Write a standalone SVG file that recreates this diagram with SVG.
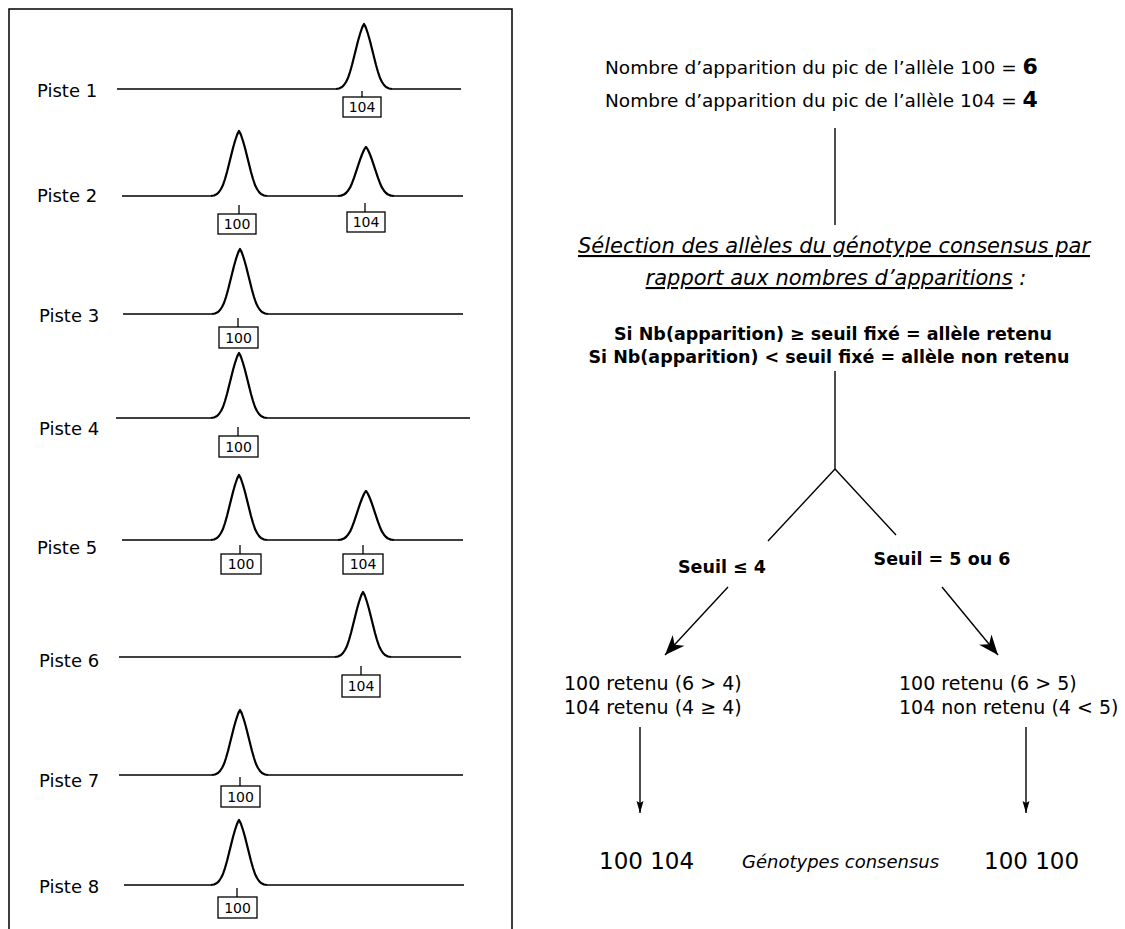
<svg xmlns="http://www.w3.org/2000/svg" xmlns:xlink="http://www.w3.org/1999/xlink" width="1125" height="929" viewBox="0 0 1125 929">
<style>
text{font-family:"DejaVu Sans","Liberation Sans",sans-serif;fill:#000}
.lbl{font-size:18px}
.box{font-size:14px;text-anchor:middle}
.bx{fill:#fff;stroke:#000;stroke-width:1.3}
.base{fill:none;stroke:#000;stroke-width:1.6}
.tick{stroke:#000;stroke-width:1.3}
.pk{fill:none;stroke:#000;stroke-width:2.2;stroke-linejoin:round}
.ln{fill:none;stroke:#000;stroke-width:1.4}
.t18{font-size:18.5px}
.hd{font-size:21px;font-style:italic;text-anchor:middle}
.bd{font-size:17.5px;font-weight:bold;text-anchor:middle}
.r19{font-size:19px}
.big{font-size:23px}
.it{font-size:18px;font-style:italic}
</style>
<defs>
<path id="peakT" class="pk" d="M-28,0 L-25,-0.5 -22,-2 -20,-4 -18,-7 -16,-11 -14,-17 -12,-24 -10,-32 -8,-40 -6,-48 -4,-55 -2,-61 -1,-63.3 0,-65 1,-63.3 2,-61 4,-55 6,-48 8,-40 10,-32 12,-24 14,-17 16,-11 18,-7 20,-4 22,-2 25,-0.5 28,0"/>
<path id="peakS" class="pk" d="M-28,0 L-25,-0.4 -22,-1.5 -20,-3 -18,-5.3 -16,-8.3 -14,-12.8 -12,-18.1 -10,-24.1 -8,-30.2 -6,-36.2 -4,-41.5 -2,-46 -1,-47.7 0,-49 1,-47.7 2,-46 4,-41.5 6,-36.2 8,-30.2 10,-24.1 12,-18.1 14,-12.8 16,-8.3 18,-5.3 20,-3 22,-1.5 25,-0.4 28,0"/>
<marker id="ah" markerUnits="userSpaceOnUse" markerWidth="26" markerHeight="22" viewBox="-2 -11 26 22" refX="20" refY="0" orient="auto">
<path d="M0,-8 L20,0 L0,8 L6,0 Z" fill="#000"/>
</marker>
<marker id="ahd" markerUnits="userSpaceOnUse" markerWidth="16" markerHeight="12" viewBox="-2 -6 16 12" refX="12" refY="0" orient="auto">
<path d="M0,-3.5 L12,0 L0,3.5 L2,0 Z" fill="#000"/>
</marker>
</defs>
<rect x="0" y="0" width="1125" height="929" fill="#fff"/>
<path id="frame" d="M9,929 V9 H512 V929" fill="none" stroke="#000" stroke-width="1.5"/>

<g id="piste1">
<text class="lbl" x="37" y="97">Piste 1</text>
<path class="base" d="M117,89 H336 M392,89 H461"/>
<use xlink:href="#peakT" x="364" y="89"/>
<line class="tick" x1="362" y1="91" x2="362" y2="97"/>
<rect class="bx" x="343" y="97" width="38" height="20"/>
<text class="box" x="362" y="112">104</text>
</g>

<g id="piste2">
<text class="lbl" x="37" y="202">Piste 2</text>
<path class="base" d="M122,196 H211 M267,196 H338 M394,196 H463"/>
<use xlink:href="#peakT" x="239" y="196"/>
<use xlink:href="#peakS" x="366" y="196"/>
<line class="tick" x1="239" y1="205" x2="239" y2="214"/>
<rect class="bx" x="218" y="214" width="38" height="20"/>
<text class="box" x="237" y="229">100</text>
<line class="tick" x1="365" y1="203" x2="365" y2="212"/>
<rect class="bx" x="347" y="212" width="38" height="20"/>
<text class="box" x="366" y="227">104</text>
</g>

<g id="piste3">
<text class="lbl" x="39" y="322">Piste 3</text>
<path class="base" d="M123,314 H212 M268,314 H463"/>
<use xlink:href="#peakT" x="240" y="314"/>
<line class="tick" x1="238" y1="318" x2="238" y2="327"/>
<rect class="bx" x="219" y="327" width="39" height="21"/>
<text class="box" x="238.5" y="343">100</text>
</g>

<g id="piste4">
<text class="lbl" x="39" y="435">Piste 4</text>
<path class="base" d="M116,418 H211 M267,418 H470"/>
<use xlink:href="#peakT" x="239" y="418"/>
<line class="tick" x1="238" y1="427" x2="238" y2="436"/>
<rect class="bx" x="219" y="436" width="39" height="21"/>
<text class="box" x="238.5" y="452">100</text>
</g>

<g id="piste5">
<text class="lbl" x="37" y="554">Piste 5</text>
<path class="base" d="M122,540 H211 M267,540 H338 M394,540 H463"/>
<use xlink:href="#peakT" x="239" y="540"/>
<use xlink:href="#peakS" x="366" y="540"/>
<line class="tick" x1="240" y1="545" x2="240" y2="554"/>
<rect class="bx" x="221" y="554" width="40" height="20"/>
<text class="box" x="241" y="569">100</text>
<line class="tick" x1="363" y1="545" x2="363" y2="554"/>
<rect class="bx" x="343" y="554" width="40" height="20"/>
<text class="box" x="363" y="569">104</text>
</g>

<g id="piste6">
<text class="lbl" x="39" y="667">Piste 6</text>
<path class="base" d="M119,657 H335 M391,657 H461"/>
<use xlink:href="#peakT" x="363" y="657"/>
<line class="tick" x1="361" y1="666" x2="361" y2="675"/>
<rect class="bx" x="342" y="675" width="38" height="22"/>
<text class="box" x="361" y="691">104</text>
</g>

<g id="piste7">
<text class="lbl" x="39" y="787">Piste 7</text>
<path class="base" d="M119,775 H212 M268,775 H463"/>
<use xlink:href="#peakT" x="240" y="775"/>
<line class="tick" x1="240" y1="777" x2="240" y2="786"/>
<rect class="bx" x="221" y="786" width="39" height="21"/>
<text class="box" x="240.5" y="802">100</text>
</g>

<g id="piste8">
<text class="lbl" x="39" y="893">Piste 8</text>
<path class="base" d="M124,885 H211 M267,885 H464"/>
<use xlink:href="#peakT" x="239" y="885"/>
<line class="tick" x1="237" y1="888" x2="237" y2="897"/>
<rect class="bx" x="218" y="897" width="39" height="21"/>
<text class="box" x="237.5" y="913">100</text>
</g>

<g id="counts">
<text class="t18" x="605" y="74">Nombre d’apparition du pic de l’allèle 100 = <tspan font-size="22" font-weight="bold">6</tspan></text>
<text class="t18" x="605" y="107">Nombre d’apparition du pic de l’allèle 104 = <tspan font-size="22" font-weight="bold">4</tspan></text>
</g>

<g id="selection">
<text class="hd" x="834" y="253"><tspan text-decoration="underline">Sélection des allèles du génotype consensus par</tspan></text>
<text class="hd" x="836" y="285"><tspan text-decoration="underline">rapport aux nombres d’apparitions</tspan> :</text>
</g>

<g id="rule">
<text class="bd" x="833" y="340">Si Nb(apparition) ≥ seuil fixé = allèle retenu</text>
<text class="bd" x="829" y="363">Si Nb(apparition) &lt; seuil fixé = allèle non retenu</text>
</g>

<g id="seuil-left"><text class="bd" x="722" y="573">Seuil ≤ 4</text></g>
<g id="seuil-right"><text class="bd" x="942" y="565">Seuil = 5 ou 6</text></g>

<g id="result-left">
<text class="r19" x="564" y="690">100 retenu (6 &gt; 4)</text>
<text class="r19" x="564" y="714">104 retenu (4 ≥ 4)</text>
</g>
<g id="result-right">
<text class="r19" x="899" y="690">100 retenu (6 &gt; 5)</text>
<text class="r19" x="899" y="714">104 non retenu (4 &lt; 5)</text>
</g>

<g id="genotypes">
<text class="big" x="599" y="869">100 104</text>
<text class="it" x="742" y="868">Génotypes consensus</text>
<text class="big" x="984" y="869">100 100</text>
</g>

<g id="connectors">
<line class="ln" x1="835" y1="128" x2="835" y2="225"/>
<line class="ln" x1="835" y1="371" x2="835" y2="469"/>
<line class="ln" x1="835" y1="469" x2="768" y2="541"/>
<line class="ln" x1="835" y1="469" x2="896" y2="535"/>
<line class="ln" x1="728" y1="587" x2="665" y2="655" marker-end="url(#ah)"/>
<line class="ln" x1="942" y1="587" x2="998" y2="655" marker-end="url(#ah)"/>
<line class="ln" x1="640" y1="727" x2="640" y2="813" marker-end="url(#ahd)"/>
<line class="ln" x1="1026" y1="727" x2="1026" y2="813" marker-end="url(#ahd)"/>
</g>
</svg>
